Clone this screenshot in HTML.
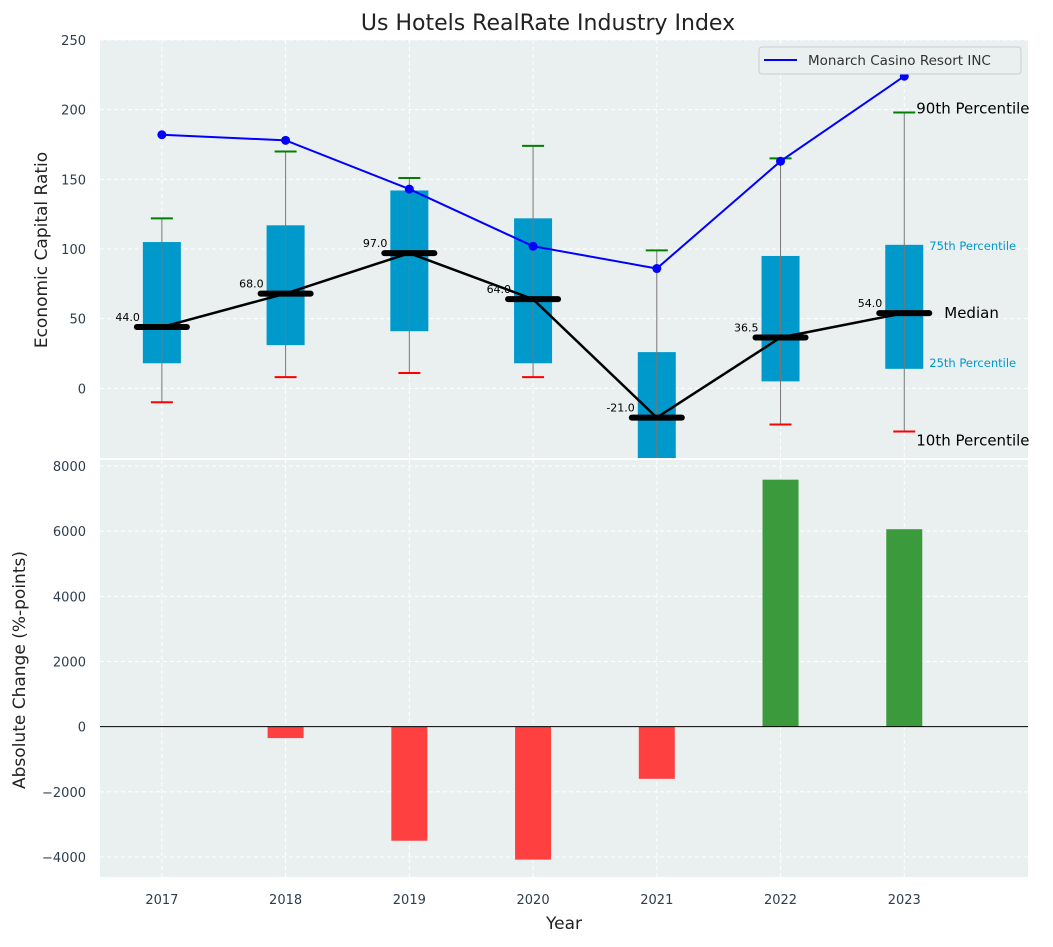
<!DOCTYPE html>
<html><head><meta charset="utf-8"><style>
body{margin:0;background:#fff;}
svg{font-family:"DejaVu Sans","Liberation Sans",sans-serif;}
</style></head><body>
<svg id="c" width="1053" height="942"></svg>
<script>
const years=[2017,2018,2019,2020,2021,2022,2023];
const p10=[-10,8,11,8,-60,-26,-31];
const q1=[18,31,41,18,-55,5,14];
const med=[44,68,97,64,-21,36.5,54];
const q3=[105,117,142,122,26,95,103];
const p90=[122,170,151,174,99,165,198];
const company=[182,178,143,102,86,163,224];
const changes=[0,-350,-3500,-4080,-1600,7580,6060];
const topTicks=[0,50,100,150,200,250];
const botTicks=[-4000,-2000,0,2000,4000,6000,8000];

const NS='http://www.w3.org/2000/svg';
const svg=document.getElementById('c');
function el(t,a,p){const e=document.createElementNS(NS,t);for(const k in a)e.setAttribute(k,a[k]);(p||svg).appendChild(e);return e;}
const L=100,R=1028;
const x=v=>L+(v-2016.5)/(2024-2016.5)*(R-L);
const T0=40,T1=458;const yT=v=>T0+(250-v)/300*(T1-T0);
const B0=460,B1=877;const yB=v=>B0+(8184-v)/(8184+4613)*(B1-B0);

let r=el('rect',{x:L,y:T0,width:R-L,height:T1-T0,fill:'#eaeff0'});


r=el('rect',{x:L,y:B0,width:R-L,height:B1-B0,fill:'#eaeff0'});



const topG=el('g',{});


const cp=el('clipPath',{id:'ct'});
el('rect',{x:L,y:T0,width:R-L,height:T1-T0},cp);
const tg=el('g',{'clip-path':'url(#ct)'},topG);

years.forEach(v=>{el('line',{x1:x(v),x2:x(v),y1:T0,y2:T1,stroke:'#fff','stroke-dasharray':'4,3'},tg);el('line',{x1:x(v),x2:x(v),y1:B0,y2:B1,stroke:'#fff','stroke-dasharray':'4,3'});});
topTicks.forEach(v=>{el('line',{x1:L,x2:R,y1:yT(v),y2:yT(v),stroke:'#fff','stroke-dasharray':'4,3'},tg);
 const t=el('text',{x:L-14,y:yT(v)+5,'text-anchor':'end','font-size':13,fill:'#2e3d4f'});t.textContent=v;
 
 });
botTicks.forEach(v=>{el('line',{x1:L,x2:R,y1:yB(v),y2:yB(v),stroke:'#fff','stroke-dasharray':'4,3'});
 const t=el('text',{x:L-14,y:yB(v)+5,'text-anchor':'end','font-size':13,fill:'#2e3d4f'});t.textContent=(v<0?'\u2212'+(-v):v);
 
 });

years.forEach((yr,i)=>{const cx=x(yr);
 const b=el('rect',{x:cx-19,y:yT(q3[i]),width:38,height:yT(q1[i])-yT(q3[i]),fill:'#0099cc'},tg);
 
 
 el('line',{x1:cx,x2:cx,y1:yT(p90[i]),y2:yT(p10[i]),stroke:'#777','stroke-width':1},tg);
 el('line',{x1:cx-11,x2:cx+11,y1:yT(p90[i]),y2:yT(p90[i]),stroke:'green','stroke-width':2},tg);
 el('line',{x1:cx-11,x2:cx+11,y1:yT(p10[i]),y2:yT(p10[i]),stroke:'red','stroke-width':2},tg);
});
const cl=el('polyline',{points:years.map((v,i)=>x(v)+','+yT(company[i])).join(' '),fill:'none',stroke:'blue','stroke-width':2},tg);


years.forEach((v,i)=>{const c=el('circle',{cx:x(v),cy:yT(company[i]),r:4.5,fill:'blue'},tg);
 
 });
const ml=el('polyline',{points:years.map((v,i)=>x(v)+','+yT(med[i])).join(' '),fill:'none',stroke:'#000','stroke-width':2.5},tg);


years.forEach((v,i)=>{const m=el('line',{x1:x(v)-25,x2:x(v)+25,y1:yT(med[i]),y2:yT(med[i]),stroke:'#000','stroke-width':6,'stroke-linecap':'round'},tg);
 
 
 const t=el('text',{x:x(v)-22,y:yT(med[i])-6,'text-anchor':'end','font-size':11,fill:'#000'},tg);t.textContent=med[i].toFixed(1);
 
 });

const last=years.length-1,ax=x(years[last]);
[['90th Percentile',p90[last],15,'#000',12,1],['10th Percentile',p10[last],15,'#000',12,14],['Median',med[last],15,'#000',40,5],['75th Percentile',q3[last],11.5,'#0099cc',25,5],['25th Percentile',q1[last],11.5,'#0099cc',25,-2]].forEach(a=>{
 const t=el('text',{x:ax+a[4],y:yT(a[1])+a[5],'font-size':a[2],fill:a[3]});t.textContent=a[0];
 
 });

const lg=el('g',{});


el('rect',{x:759,y:47,width:262,height:27,rx:3,fill:'#eaeff0',stroke:'#ccc'},lg);
el('line',{x1:764,x2:797,y1:60,y2:60,stroke:'blue','stroke-width':2},lg);
let lt=el('text',{x:808,y:65,'font-size':13.5,fill:'#333'},lg);lt.textContent='Monarch Casino Resort INC';

years.forEach((v,i)=>{const c=changes[i];const y0=yB(0),y1=yB(c);
 const b=el('rect',{x:x(v)-18,y:Math.min(y0,y1),width:36,height:Math.abs(y1-y0),fill:c>=0?'#3a9a3c':'#ff4040'});
 
 });
el('line',{x1:L,x2:R,y1:yB(0),y2:yB(0),stroke:'#000','stroke-width':1});

years.forEach(v=>{const t=el('text',{x:x(v),y:904,'text-anchor':'middle','font-size':13,fill:'#2e3d4f'});t.textContent=v;
 
 });

let t=el('text',{x:548,y:30,'text-anchor':'middle','font-size':22,fill:'#222'});t.textContent='Us Hotels RealRate Industry Index';


t=el('text',{x:564,y:929,'text-anchor':'middle','font-size':17,fill:'#222'});t.textContent='Year';


t=el('text',{x:47,y:250,'text-anchor':'middle','font-size':17,fill:'#222',transform:'rotate(-90 47 250)'});t.textContent='Economic Capital Ratio';


t=el('text',{x:25,y:670,'text-anchor':'middle','font-size':17,fill:'#222',transform:'rotate(-90 25 670)'});t.textContent='Absolute Change (%-points)';


</script>
</body></html>
